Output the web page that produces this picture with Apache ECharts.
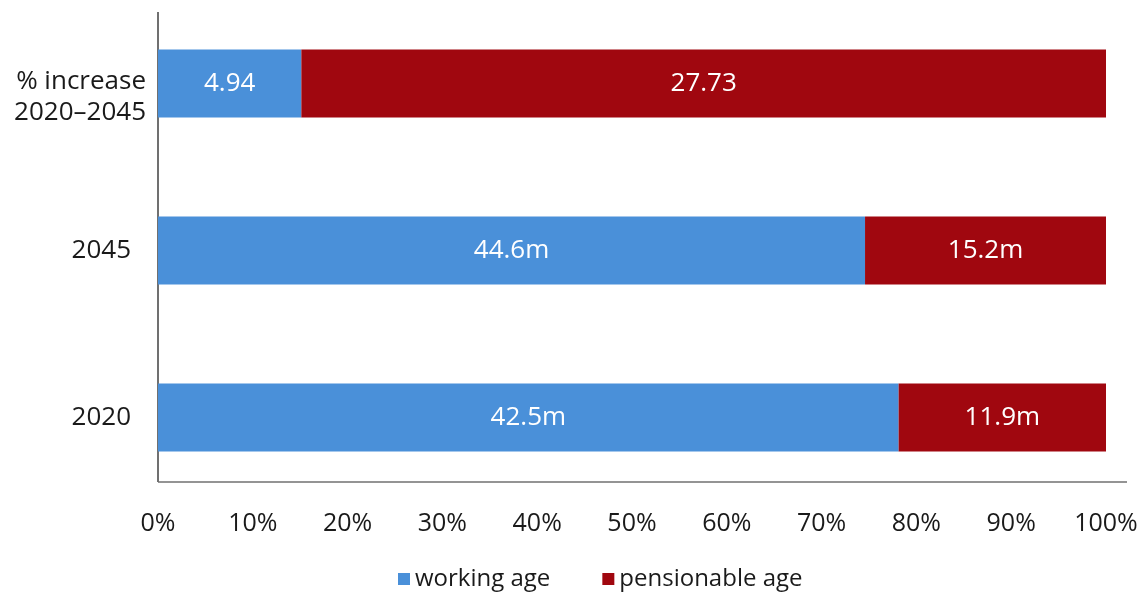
<!DOCTYPE html>
<html>
<head>
<meta charset="utf-8">
<script src="https://cdn.jsdelivr.net/npm/echarts@6/dist/echarts.min.js"></script>
<style>html,body{margin:0;padding:0;background:#fff}#c{width:1141px;height:592px}</style>
</head>
<body>
<div id="c"></div>
<script>
const categories = ['2020', '2045', '% increase\n2020–2045'];
const workingAge = [42.5, 44.6, 4.94];
const pensionableAge = [11.9, 15.2, 27.73];
const units = ['m', 'm', ''];
const xTicks = [0, 10, 20, 30, 40, 50, 60, 70, 80, 90, 100];

const totals = workingAge.map((v, i) => v + pensionableAge[i]);
const share = (arr) => arr.map((v, i) => ({ value: v / totals[i] * 100, raw: v }));

const font = 'Open Sans';
const chart = echarts.init(document.getElementById('c'), null, { renderer: 'canvas' });

function lbl(p) {
  const i = p.dataIndex;
  const raw = p.data.raw;
  return units[i] ? raw.toFixed(1) + units[i] : raw.toFixed(2);
}

chart.setOption({
  animation: false,
  textStyle: { fontFamily: font },
  grid: { left: 158, right: 35, top: -2, height: 503 },
  legend: {
    left: 393, top: 562,
    itemWidth: 12, itemHeight: 12, itemGap: 52,
    icon: 'rect',
    textStyle: { fontFamily: font, fontSize: 24, color: '#1a1a1a' },
    data: ['working age', 'pensionable age']
  },
  xAxis: {
    type: 'value', min: xTicks[0], max: xTicks[xTicks.length - 1], interval: 10,
    axisLine: { show: false }, axisTick: { show: false }, splitLine: { show: false },
    axisLabel: { formatter: '{value}%', fontFamily: font, fontSize: 25, color: '#1a1a1a', margin: 10 }
  },
  yAxis: {
    type: 'category', data: categories,
    axisLine: { show: false }, axisTick: { show: false },
    axisLabel: {
      fontFamily: font, fontSize: 26, color: '#1a1a1a', margin: 12,
      formatter: (v) => v.indexOf('\n') >= 0
        ? '{e| }\n{m|' + v.split('\n').join('}\n{m|') + '}'
        : '{s|' + v + '}',
      rich: {
        e: { fontSize: 10, lineHeight: 27 },
        s: { fontFamily: font, fontSize: 26, color: '#1a1a1a', padding: [0, 15, 0, 0] },
        m: { fontFamily: font, fontSize: 26, color: '#1a1a1a', lineHeight: 31 }
      }
    }
  },
  series: [
    {
      name: 'working age', type: 'bar', stack: 'a', barWidth: 68,
      itemStyle: { color: '#4A90D9' },
      label: { show: true, position: 'inside', color: '#fff', fontFamily: font, fontSize: 26, formatter: lbl },
      data: share(workingAge)
    },
    {
      name: 'pensionable age', type: 'bar', stack: 'a', barWidth: 68,
      itemStyle: { color: '#A0070F' },
      label: { show: true, position: 'inside', color: '#fff', fontFamily: font, fontSize: 26, formatter: lbl },
      data: share(pensionableAge)
    }
  ],
  graphic: [
    { type: 'line', shape: { x1: 158, y1: 12, x2: 158, y2: 482 }, style: { stroke: '#404040', lineWidth: 1.5 } },
    { type: 'line', shape: { x1: 158, y1: 482, x2: 1127, y2: 482 }, style: { stroke: '#707070', lineWidth: 1.5 } }
  ]
});
</script>
</body>
</html>
